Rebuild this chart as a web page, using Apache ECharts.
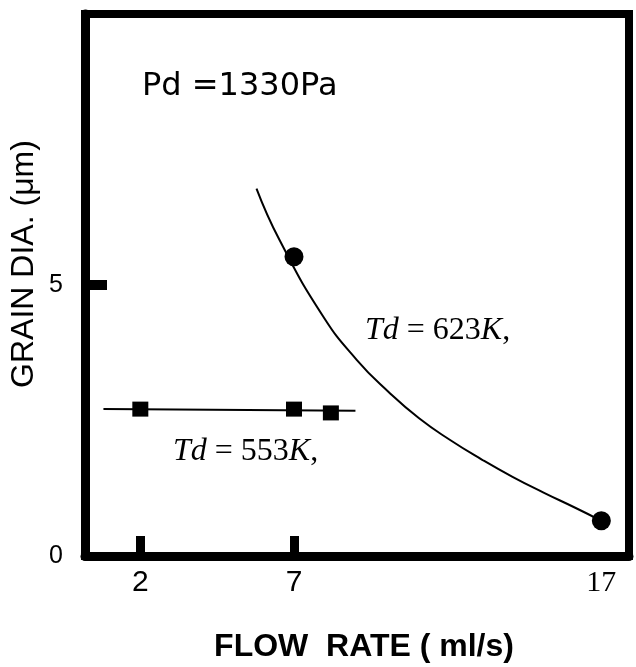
<!DOCTYPE html>
<html>
<head>
<meta charset="utf-8">
<script src="https://cdn.jsdelivr.net/npm/echarts@6/dist/echarts.min.js"></script>
<style>
  html, body { margin: 0; padding: 0; background: #fff; }
  #chart { width: 636px; height: 667px; }
</style>
</head>
<body>
<div id="chart"></div>
<script>
// 数据：流量 (ml/s) - 粒径 (µm)
var xTicks = [2, 7, 17];
var yTicks = [0, 5];

// Td = 553K
var sq553 = [[2, 2.71], [7, 2.71], [8.2, 2.64]];
var line553 = [[0.8, 2.71], [9.0, 2.68]];

// Td = 623K
var pts623 = [[7, 5.52], [17, 0.65]];
var curve623 = [
  [5.78, 6.78], [6.53, 5.83], [7.95, 4.42], [9.04, 3.62],
  [10.07, 3.03], [11.07, 2.54], [12.08, 2.14], [13.11, 1.78],
  [14.11, 1.46], [15.12, 1.17], [16.15, 0.89], [17, 0.65]
];

var chart = echarts.init(document.getElementById('chart'));

var option = {
  animation: false,
  backgroundColor: '#fff',
  grid: {
    left: 85, right: 7, top: 14, bottom: 111,
    show: true, borderWidth: 8, borderColor: '#000'
  },
  xAxis: {
    type: 'value', min: 0.2, max: 17.9,
    splitLine: { show: false },
    axisLine: { lineStyle: { color: '#000', width: 9 } },
    axisTick: { customValues: [2, 7], inside: true, length: 20, lineStyle: { color: '#000', width: 9 } },
    axisLabel: {
      customValues: xTicks, margin: 12, color: '#000',
      fontFamily: 'Liberation Sans', fontSize: 30,
      formatter: function (v) { return v === 17 ? '{s|17}' : String(v); },
      rich: { s: { fontFamily: 'Liberation Serif', fontSize: 30, color: '#000' } }
    }
  },
  yAxis: {
    type: 'value', min: 0, max: 10,
    splitLine: { show: false },
    axisLine: { lineStyle: { color: '#000', width: 9 } },
    axisTick: { customValues: [5], inside: true, length: 22, lineStyle: { color: '#000', width: 10 } },
    axisLabel: {
      customValues: yTicks, margin: 22, color: '#000',
      fontFamily: 'Liberation Sans', fontSize: 25
    }
  },
  graphic: [
    { type: 'text', x: 142, y: 87, style: { text: 'Pd =1330Pa', font: '32px "DejaVu Sans"', fill: '#000', verticalAlign: 'middle' } },
    { type: 'text', x: 365, y: 331, style: {
        text: '{i|Td} = 623{i|K},', font: '32px "Liberation Serif"', fill: '#000', verticalAlign: 'middle',
        rich: { i: { fontStyle: 'italic', fontFamily: 'Liberation Serif', fontSize: 32 } } } },
    { type: 'text', x: 173, y: 452, style: {
        text: '{i|Td} = 553{i|K},', font: '32px "Liberation Serif"', fill: '#000', verticalAlign: 'middle',
        rich: { i: { fontStyle: 'italic', fontFamily: 'Liberation Serif', fontSize: 32 } } } },
    { type: 'text', x: 24, y: 264, rotation: Math.PI / 2, style: {
        text: 'GRAIN DIA. (\u03bcm)', font: '32px "Liberation Sans"', fill: '#000',
        align: 'center', verticalAlign: 'middle' } },
    { type: 'text', x: 364, y: 647, style: {
        text: 'FLOW  RATE ( ml/s)', font: 'bold 32px "Liberation Sans"', fill: '#000',
        align: 'center', verticalAlign: 'middle' } }
  ],
  series: [
    {
      type: 'line', data: line553, symbol: 'none',
      lineStyle: { color: '#000', width: 2 }
    },
    {
      type: 'scatter', data: sq553, symbol: 'rect', symbolSize: [16, 15],
      itemStyle: { color: '#000', opacity: 1 }
    },
    {
      type: 'line', data: curve623, symbol: 'none', smooth: 0.5,
      lineStyle: { color: '#000', width: 2 }
    },
    {
      type: 'scatter', data: pts623, symbol: 'circle', symbolSize: 19,
      itemStyle: { color: '#000', opacity: 1 }
    }
  ]
};

chart.setOption(option);
</script>
</body>
</html>
